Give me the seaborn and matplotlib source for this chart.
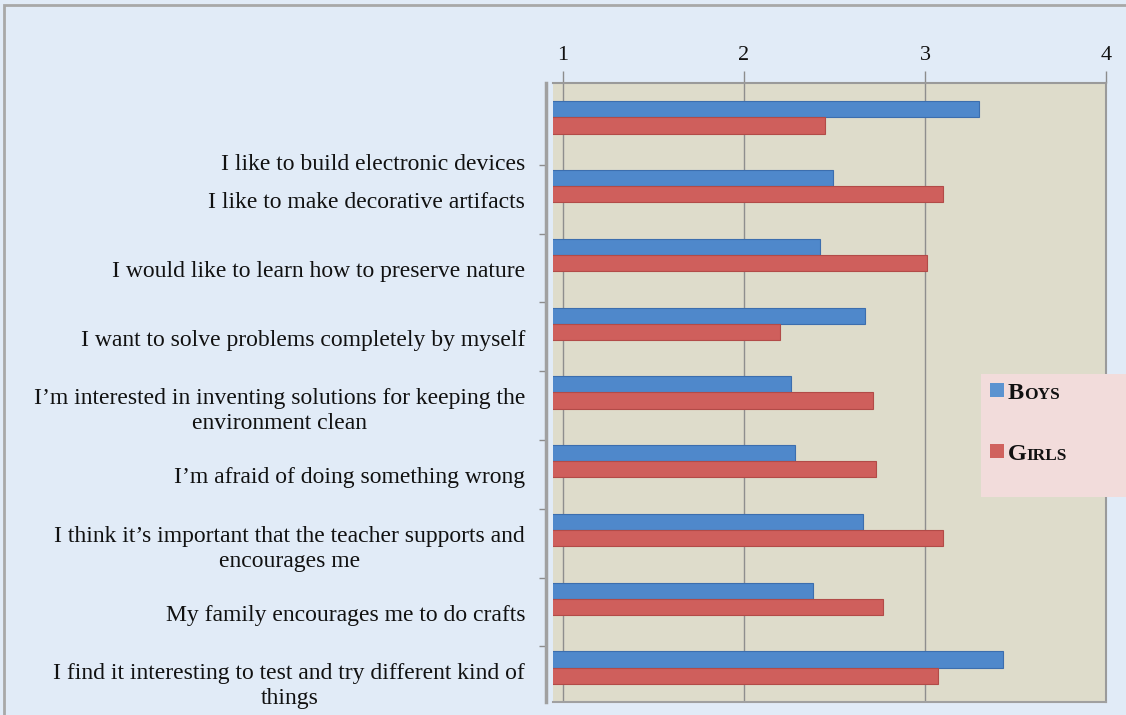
import matplotlib
matplotlib.use("Agg")
import matplotlib.pyplot as plt
import matplotlib.transforms as mtransforms
from matplotlib.patches import Rectangle
import seaborn as sns
import pandas as pd

categories = [
    "I like to build electronic devices",
    "I like to make decorative artifacts",
    "I would like to learn how to preserve nature",
    "I want to solve problems completely by myself",
    "I\u2019m interested in inventing solutions for keeping the\nenvironment clean",
    "I\u2019m afraid of doing something wrong",
    "I think it\u2019s important that the teacher supports and\nencourages me",
    "My family encourages me to do crafts",
    "I find it interesting to test and try different kind of\nthings",
]
boys = [3.30, 2.49, 2.42, 2.67, 2.26, 2.28, 2.66, 2.38, 3.43]
girls = [2.45, 3.10, 3.01, 2.20, 2.71, 2.73, 3.10, 2.77, 3.07]
series = ["Boys", "Girls"]
x_ticks = [1, 2, 3, 4]

df = pd.DataFrame({
    "item": categories * 2,
    "score": boys + girls,
    "group": [series[0]] * len(boys) + [series[1]] * len(girls),
})

sns.set_theme(style="white")
plt.rcParams["font.family"] = ["Liberation Serif", "DejaVu Serif"]

W, H = 1126, 715
fig = plt.figure(figsize=(W / 100, H / 100), dpi=100)
fig.patch.set_facecolor("#E1EBF7")
# outer frame of the chart area
fig.add_artist(Rectangle((4 / W, -0.01), 1.1, 1 - 5 / H + 0.01, transform=fig.transFigure,
                         fill=False, edgecolor="#A8A8A8", linewidth=2))

ax_left, ax_right, ax_top, ax_bot = 553, 1106, 83, 702
ax = fig.add_axes([ax_left / W, 1 - ax_bot / H, (ax_right - ax_left) / W, (ax_bot - ax_top) / H])
ax.set_facecolor("#DEDCCB")

blue, red = "#4F88CB", "#CF5F5C"
sns.barplot(data=df, y="item", x="score", hue="group", orient="h",
            palette=[blue, red], saturation=1, width=0.47, ax=ax, legend=False,
            edgecolor="none", linewidth=0, zorder=3)
for i, p in enumerate(ax.patches):
    p.set_edgecolor("#3C6EAE" if i < len(boys) else "#B24B48")
    p.set_linewidth(0.8)

ax.set_xlim(1 - 10 / 181, 4)
ax.set_ylim(len(categories) - 0.5, -0.5)
ax.set_xlabel("")
ax.set_ylabel("")
ax.xaxis.tick_top()
ax.set_xticks(x_ticks)
ax.set_xticklabels([str(t) for t in x_ticks], fontsize=16)
ax.tick_params(axis="x", which="major", direction="out", length=8.5, width=1,
               color="#8C8C8C", pad=4.5, top=True, bottom=False, labelcolor="#111111")
ax.grid(axis="x", color="#8E8E8E", linewidth=1, zorder=0)
ax.set_axisbelow(True)

for s in ["top", "right"]:
    ax.spines[s].set_color("#9A9A9A")
    ax.spines[s].set_linewidth(1.5)
ax.spines["left"].set_color("#A0A0A0")
ax.spines["left"].set_linewidth(2.5)
ax.spines["left"].set_position(("outward", 5))
ax.spines["bottom"].set_color("#A0A0A0")
ax.spines["bottom"].set_linewidth(1.5)

ax.set_yticks(range(len(categories)))
ax.set_yticklabels(categories, fontsize=17, multialignment="center", color="#111111",
                   linespacing=1.25)
ax.tick_params(axis="y", which="major", length=0, pad=15)
ax.set_yticks([i + 0.69 for i in range(len(categories) - 1)], minor=True)
ax.tick_params(axis="y", which="minor", length=5, width=1, color="#8C8C8C", left=True)
for i, lab in enumerate(ax.get_yticklabels()):
    dy = -45 if i == 0 else -14
    lab.set_transform(lab.get_transform() + mtransforms.ScaledTranslation(0, dy / 100, fig.dpi_scale_trans))

# legend box
lx0, ly0, lx1, ly1 = 981, 374, 1126, 497
fig.add_artist(Rectangle((lx0 / W, 1 - ly1 / H), (lx1 - lx0) / W, (ly1 - ly0) / H,
                         transform=fig.transFigure, facecolor="#F2DCDB", edgecolor="none", zorder=5))
for name, col, yc in [(series[0], "#5B93D0", 390), (series[1], "#D0625E", 451)]:
    fig.add_artist(Rectangle((990 / W, 1 - (yc + 7) / H), 14 / W, 14 / H,
                             transform=fig.transFigure, facecolor=col, edgecolor="none", zorder=6))
    t1 = fig.text(1008 / W, 1 - (yc + 9) / H, name[0], fontsize=17.5, fontweight="bold",
                  va="baseline", ha="left", color="#111111", zorder=7)
    fig.canvas.draw()
    bb = t1.get_window_extent()
    fig.text(bb.x1 / W, 1 - (yc + 9) / H, name[1:].upper(), fontsize=12.5,
             fontweight="bold", va="baseline", ha="left", color="#111111", zorder=7)

fig.savefig("out.png", dpi=100, facecolor=fig.get_facecolor())
